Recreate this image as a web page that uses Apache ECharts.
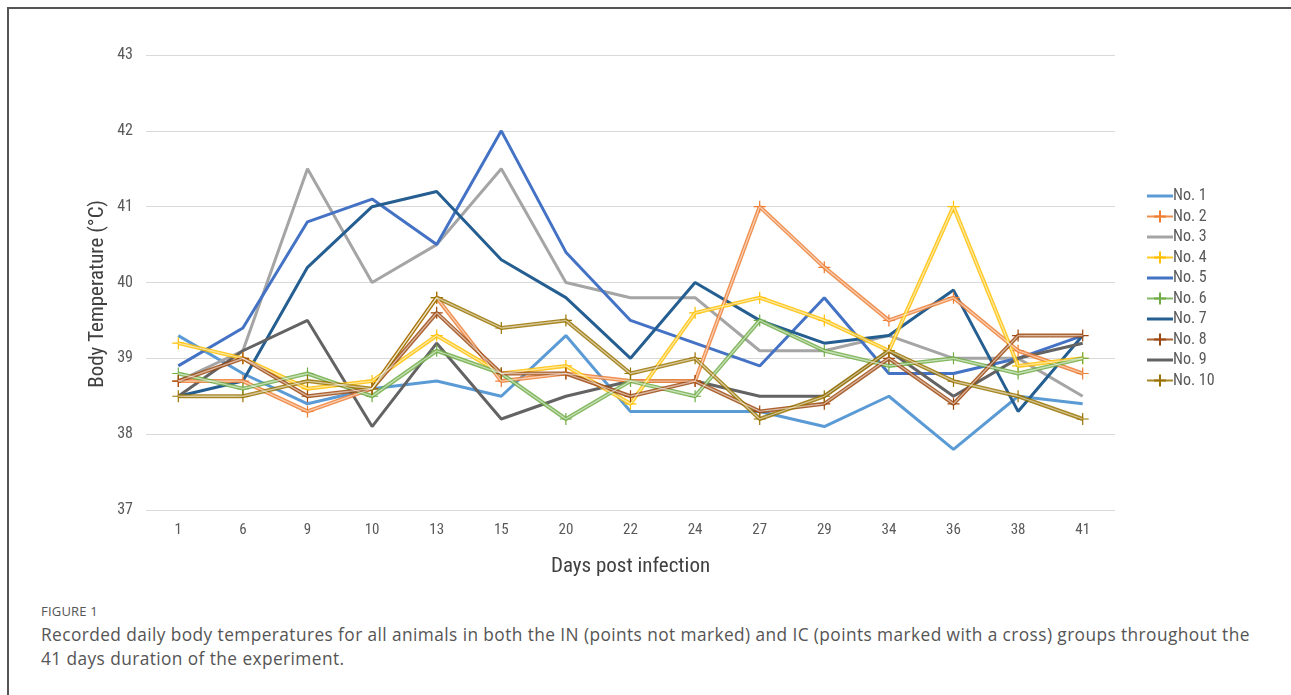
<!DOCTYPE html>
<html>
<head>
<meta charset="utf-8">
<script src="https://cdn.jsdelivr.net/npm/echarts@6/dist/echarts.min.js"></script>
<style>
html,body{margin:0;padding:0;background:#fff;}
#frame{position:absolute;left:7px;top:7px;width:1284px;height:688px;border-left:2px solid #555;border-top:2px solid #555;}
#chart{position:absolute;left:0;top:0;width:1291px;height:590px;}
#cap1{position:absolute;left:41px;top:602px;font-family:"Open Sans",sans-serif;font-size:13px;color:#555;letter-spacing:0.2px;}
#cap2{position:absolute;left:41px;top:623px;width:1250px;font-family:"Open Sans",sans-serif;font-size:17.3px;line-height:24px;color:#555;letter-spacing:0.42px;}
</style>
</head>
<body>
<div id="frame"></div>
<div id="chart"></div>
<div id="cap1">FIGURE 1</div>
<div id="cap2">Recorded daily body temperatures for all animals in both the IN (points not marked) and IC (points marked with a cross) groups throughout the<br>41 days duration of the experiment.</div>
<script>
const days = ['1','6','9','10','13','15','20','22','24','27','29','34','36','38','41'];
const yTicks = [37, 43, 1];
const no1  = [39.3,38.8,38.4,38.6,38.7,38.5,39.3,38.3,38.3,38.3,38.1,38.5,37.8,38.5,38.4];
const no2  = [38.7,38.7,38.3,38.6,39.8,38.7,38.8,38.7,38.7,41.0,40.2,39.5,39.8,39.1,38.8];
const no3  = [38.7,39.1,41.5,40.0,40.5,41.5,40.0,39.8,39.8,39.1,39.1,39.3,39.0,39.0,38.5];
const no4  = [39.2,39.0,38.6,38.7,39.3,38.8,38.9,38.4,39.6,39.8,39.5,39.1,41.0,38.9,39.0];
const no5  = [38.9,39.4,40.8,41.1,40.5,42.0,40.4,39.5,39.2,38.9,39.8,38.8,38.8,39.0,39.3];
const no6  = [38.8,38.6,38.8,38.5,39.1,38.8,38.2,38.7,38.5,39.5,39.1,38.9,39.0,38.8,39.0];
const no7  = [38.5,38.7,40.2,41.0,41.2,40.3,39.8,39.0,40.0,39.5,39.2,39.3,39.9,38.3,39.3];
const no8  = [38.7,39.0,38.5,38.6,39.6,38.8,38.8,38.5,38.7,38.3,38.4,39.0,38.4,39.3,39.3];
const no9  = [38.5,39.1,39.5,38.1,39.2,38.2,38.5,38.7,38.7,38.5,38.5,39.1,38.5,39.0,39.2];
const no10 = [38.5,38.5,38.7,38.6,39.8,39.4,39.5,38.8,39.0,38.2,38.5,39.1,38.7,38.5,38.2];

const names = ['No. 1','No. 2','No. 3','No. 4','No. 5','No. 6','No. 7','No. 8','No. 9','No. 10'];
const values = [no1,no2,no3,no4,no5,no6,no7,no8,no9,no10];
const colors = ['#5B9BD5','#ED7D31','#A5A5A5','#FFC000','#4472C4','#70AD47','#255E91','#9E480E','#636363','#997300'];
const marked = [false,true,false,true,false,true,false,true,false,true];
const cross = 'path://M0,5L10,5M5,0L5,10';
const font = '"Liberation Sans Narrow","Roboto Condensed","Liberation Sans",sans-serif';

const series = [];
names.forEach((n,i)=>{
  if(!marked[i]){
    series.push({name:n,type:'line',data:values[i],symbol:'none',
      lineStyle:{color:colors[i],width:3},itemStyle:{color:colors[i]},z:2});
  } else {
    series.push({name:n,type:'line',data:values[i],symbol:cross,symbolSize:12,showSymbol:true,
      lineStyle:{color:colors[i],width:4,opacity:0.85},
      itemStyle:{color:'none',borderColor:colors[i],borderWidth:1.2},z:3});
    series.push({name:n+'_in',type:'line',data:values[i],symbol:'none',silent:true,
      lineStyle:{color:'#ffffff',width:1.3,opacity:0.55},z:4});
  }
});

const legendData = names.map((n,i)=> marked[i] ? {name:n} : {name:n, icon:'path://M0,0H26V3H0Z', itemStyle:{color:colors[i]}});

const chart = echarts.init(document.getElementById('chart'));
chart.setOption({
  animation:false,
  color:colors,
  grid:{left:146,right:176,top:55,bottom:80},
  legend:{data:legendData,orient:'vertical',left:1141,top:183,itemGap:4,itemWidth:26,itemHeight:15,
    textStyle:{fontFamily:font,fontSize:16,color:'#595959',padding:[0,0,0,-5]}},
  xAxis:{type:'category',data:days,boundaryGap:true,
    axisLine:{show:false},axisTick:{show:false},
    axisLabel:{fontFamily:font,fontSize:15,color:'#595959',margin:13},
    name:'Days post infection',nameLocation:'middle',nameGap:46,
    nameTextStyle:{fontFamily:font,fontSize:21,color:'#404040'}},
  yAxis:{type:'value',min:yTicks[0],max:yTicks[1],interval:yTicks[2],
    axisLine:{show:false},axisTick:{show:false},
    splitLine:{lineStyle:{color:'#d9d9d9',width:1.2}},
    axisLabel:{fontFamily:font,fontSize:16,color:'#595959',margin:13}},
  graphic:[{type:'text',left:87,top:200,rotation:Math.PI/2,
    style:{text:'Body Temperature (°C)',font:'21px '+font,fill:'#404040'}}],
  series:series
});
</script>
</body>
</html>
